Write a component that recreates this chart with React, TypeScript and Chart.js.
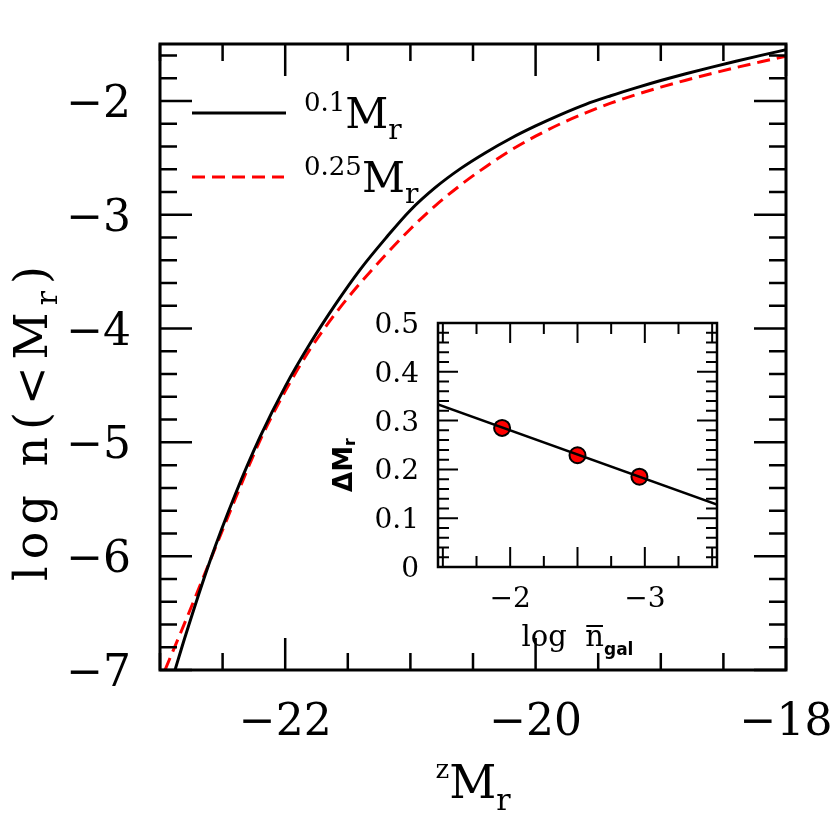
import React, { useEffect, useRef } from "react";
import { Chart, registerables } from "chart.js";
Chart.register(...registerables);

// ---- main panel data: cumulative luminosity function, log n(<M_r) ----
const mag01X = [-22.88, -22.8, -22.6, -22.4, -22.2, -22.0, -21.8, -21.6, -21.4, -21.2, -21.0, -20.8, -20.6, -20.4, -20.2, -20.0, -19.8, -19.6, -19.4, -19.2, -19.0, -18.8, -18.6, -18.4, -18.2, -18.0];
const mag01Y = [-7.0, -6.71, -6.04, -5.46, -4.95, -4.51, -4.13, -3.79, -3.48, -3.21, -2.96, -2.76, -2.595, -2.455, -2.33, -2.22, -2.12, -2.03, -1.955, -1.886, -1.821, -1.761, -1.705, -1.651, -1.6, -1.55];
const mag025X = [-22.96, -22.8, -22.6, -22.4, -22.2, -22.0, -21.8, -21.6, -21.4, -21.2, -21.0, -20.8, -20.6, -20.4, -20.2, -20.0, -19.8, -19.6, -19.4, -19.2, -19.0, -18.8, -18.6, -18.4, -18.2, -18.0];
const mag025Y = [-7.0, -6.58, -6.04, -5.5, -4.98, -4.55, -4.18, -3.87, -3.6, -3.355, -3.125, -2.92, -2.74, -2.58, -2.435, -2.31, -2.2, -2.105, -2.02, -1.946, -1.879, -1.818, -1.761, -1.707, -1.656, -1.607];
const mainXTicks = [-22, -20, -18];
const mainYTicks = [-2, -3, -4, -5, -6, -7];
const legendSup = ["0.1", "0.25"];

// ---- inset data: Delta M_r vs log n_gal ----
const insetFitX = [-1.464, -3.536];
const insetFitY = [0.333, 0.128];
const insetPtX = [-1.94, -2.5, -2.96];
const insetPtY = [0.285, 0.229, 0.185];
const insetXTicks = [-2, -3];
const insetYTicks = [0, 0.1, 0.2, 0.3, 0.4, 0.5];

const SERIF = '"DejaVu Serif", serif';
const SANS = '"DejaVu Sans", sans-serif';

const fmt = (v: number) => (v < 0 ? "\u2212" + String(Math.abs(v)) : String(v));

type Part = { t: string; size: number; dy?: number; family?: string; weight?: string };

function fontOf(p: Part) {
  return `${p.weight || "normal"} ${p.size}px ${p.family || SERIF}`;
}

function drawParts(ctx: CanvasRenderingContext2D, parts: Part[], x: number, y: number, align: "left" | "center") {
  const widths = parts.map((p) => {
    ctx.font = fontOf(p);
    return ctx.measureText(p.t).width;
  });
  const total = widths.reduce((a, b) => a + b, 0);
  let cx = align === "center" ? x - total / 2 : x;
  ctx.textAlign = "left";
  ctx.textBaseline = "alphabetic";
  const starts: number[] = [];
  parts.forEach((p, i) => {
    ctx.font = fontOf(p);
    starts.push(cx);
    ctx.fillText(p.t, cx, y + (p.dy || 0));
    cx += widths[i];
  });
  return { starts, widths };
}

type TickOpts = {
  xMinor: number; xMajor: number; yMinor: number; yMajor: number;
  majLen: number; minLen: number; tickWidth: number; frameWidth: number;
};

function drawFrameTicks(chart: any, o: TickOpts) {
  const { ctx, chartArea: a, scales } = chart;
  const xs = scales.x, ys = scales.y;
  const each = (min: number, max: number, step: number, major: number, fn: (v: number, m: boolean) => void) => {
    const i0 = Math.ceil(min / step - 1e-6), i1 = Math.floor(max / step + 1e-6);
    for (let i = i0; i <= i1; i++) {
      const v = i * step;
      const r = v / major;
      fn(v, Math.abs(r - Math.round(r)) < 1e-6);
    }
  };
  ctx.save();
  ctx.strokeStyle = "#000";
  ctx.lineWidth = o.tickWidth;
  ctx.setLineDash([]);
  ctx.beginPath();
  each(xs.min, xs.max, o.xMinor, o.xMajor, (v, m) => {
    const px = xs.getPixelForValue(v);
    const L = m ? o.majLen : o.minLen;
    ctx.moveTo(px, a.bottom); ctx.lineTo(px, a.bottom - L);
    ctx.moveTo(px, a.top); ctx.lineTo(px, a.top + L);
  });
  each(ys.min, ys.max, o.yMinor, o.yMajor, (v, m) => {
    const py = ys.getPixelForValue(v);
    const L = m ? o.majLen : o.minLen;
    ctx.moveTo(a.left, py); ctx.lineTo(a.left + L, py);
    ctx.moveTo(a.right, py); ctx.lineTo(a.right - L, py);
  });
  ctx.stroke();
  ctx.lineWidth = o.frameWidth;
  ctx.strokeRect(a.left, a.top, a.right - a.left, a.bottom - a.top);
  ctx.restore();
}

const mainDecor = {
  id: "mainDecor",
  afterDatasetsDraw(chart: any) {
    const { ctx, chartArea: a, scales } = chart;
    drawFrameTicks(chart, { xMinor: 0.5, xMajor: 2, yMinor: 0.2, yMajor: 1, majLen: 32, minLen: 17, tickWidth: 2.5, frameWidth: 3 });
    ctx.save();
    ctx.fillStyle = "#000";
    ctx.font = `44px ${SERIF}`;
    ctx.textAlign = "center";
    ctx.textBaseline = "alphabetic";
    mainXTicks.forEach((v) => ctx.fillText(fmt(v), scales.x.getPixelForValue(v), 735));
    ctx.textAlign = "right";
    mainYTicks.forEach((v) => ctx.fillText(fmt(v), a.left - 29, scales.y.getPixelForValue(v) + 16));

    // x title
    drawParts(ctx, [
      { t: "z", size: 26, dy: -20 },
      { t: "M", size: 46 },
      { t: "r", size: 30, dy: 12 },
    ], (a.left + a.right) / 2, 798, "center");

    // y title (rotated)
    ctx.save();
    ctx.translate(47, 420);
    ctx.rotate(-Math.PI / 2);
    (ctx as any).letterSpacing = "7px";
    drawParts(ctx, [
      { t: "log n(<", size: 46 },
      { t: "M", size: 46 },
      { t: "r", size: 30, dy: 10 },
      { t: ")", size: 46 },
    ], 0, 0, "center");
    (ctx as any).letterSpacing = "0px";
    ctx.restore();

    // legend
    ctx.lineWidth = 3;
    ctx.strokeStyle = "#000";
    ctx.setLineDash([]);
    ctx.beginPath(); ctx.moveTo(192, 113); ctx.lineTo(286, 113); ctx.stroke();
    ctx.strokeStyle = "#ff0000";
    ctx.setLineDash([13, 7]);
    ctx.beginPath(); ctx.moveTo(192, 177); ctx.lineTo(284, 177); ctx.stroke();
    ctx.setLineDash([]);
    const rows = [128, 192];
    legendSup.forEach((s, i) => {
      drawParts(ctx, [
        { t: s, size: 26, dy: -17 },
        { t: "M", size: 42 },
        { t: "r", size: 28, dy: 11 },
      ], 304, rows[i], "left");
    });
    ctx.restore();
  },
};

const insetDecor = {
  id: "insetDecor",
  afterDatasetsDraw(chart: any) {
    const { ctx, chartArea: a, scales } = chart;
    drawFrameTicks(chart, { xMinor: 0.25, xMajor: 0.5, yMinor: 0.02, yMajor: 0.1, majLen: 20, minLen: 11, tickWidth: 2, frameWidth: 2.5 });
    ctx.save();
    ctx.fillStyle = "#000";
    ctx.font = `28px ${SERIF}`;
    ctx.textAlign = "center";
    ctx.textBaseline = "alphabetic";
    insetXTicks.forEach((v) => ctx.fillText(fmt(v), scales.x.getPixelForValue(v), a.bottom + 40));
    ctx.textAlign = "right";
    insetYTicks.forEach((v) => ctx.fillText(fmt(v), a.left - 19, scales.y.getPixelForValue(v) + 10));

    // x title: log n̄_gal
    const base = a.bottom + 79;
    const r = drawParts(ctx, [
      { t: "log  ", size: 29 },
      { t: "n", size: 29 },
      { t: "gal", size: 17, dy: 9, family: SANS, weight: "bold" },
    ], (a.left + a.right) / 2, base, "center");
    ctx.strokeStyle = "#000";
    ctx.lineWidth = 2;
    ctx.beginPath();
    ctx.moveTo(r.starts[1] + 1, base - 20);
    ctx.lineTo(r.starts[1] + r.widths[1] - 1, base - 20);
    ctx.stroke();

    // y title: ΔM_r rotated
    ctx.save();
    ctx.translate(a.left - 86, (a.top + a.bottom) / 2 + 20);
    ctx.rotate(-Math.PI / 2);
    drawParts(ctx, [
      { t: "\u0394M", size: 26, family: SANS, weight: "bold" },
      { t: "r", size: 16, dy: 3, family: SANS, weight: "bold" },
    ], 0, 0, "center");
    ctx.restore();
    ctx.restore();
  },
};

export default function App() {
  const mainRef = useRef<HTMLCanvasElement | null>(null);
  const insetRef = useRef<HTMLCanvasElement | null>(null);

  useEffect(() => {
    const prevMargin = document.body.style.margin;
    document.body.style.margin = "0";
    const mainChart = new Chart(mainRef.current as HTMLCanvasElement, {
      type: "scatter",
      data: {
        datasets: [
          {
            label: "0.1Mr",
            data: mag01X.map((x, i) => ({ x, y: mag01Y[i] })),
            showLine: true,
            borderColor: "#000000",
            borderWidth: 3,
            pointRadius: 0,
            cubicInterpolationMode: "monotone",
          },
          {
            label: "0.25Mr",
            data: mag025X.map((x, i) => ({ x, y: mag025Y[i] })),
            showLine: true,
            borderColor: "#ff0000",
            borderWidth: 3,
            borderDash: [13, 7],
            pointRadius: 0,
            cubicInterpolationMode: "monotone",
          },
        ],
      } as any,
      options: {
        responsive: false,
        animation: false,
        layout: { padding: { left: 160, top: 44, right: 44, bottom: 160 } },
        scales: {
          x: { type: "linear", min: -23, max: -18, display: false },
          y: { type: "linear", min: -7, max: -1.5, display: false },
        },
        plugins: { legend: { display: false }, tooltip: { enabled: false } },
      } as any,
      plugins: [mainDecor],
    });

    const insetChart = new Chart(insetRef.current as HTMLCanvasElement, {
      type: "scatter",
      data: {
        datasets: [
          {
            label: "fit",
            data: insetFitX.map((x, i) => ({ x, y: insetFitY[i] })),
            showLine: true,
            borderColor: "#000000",
            borderWidth: 2.5,
            pointRadius: 0,
          },
          {
            label: "points",
            data: insetPtX.map((x, i) => ({ x, y: insetPtY[i] })),
            showLine: false,
            pointRadius: 8,
            pointBackgroundColor: "#ff0000",
            pointBorderColor: "#000000",
            pointBorderWidth: 2,
          },
        ],
      } as any,
      options: {
        responsive: false,
        animation: false,
        layout: { padding: { left: 108, top: 23, right: 13, bottom: 113 } },
        scales: {
          x: { type: "linear", min: -3.536, max: -1.464, reverse: true, display: false },
          y: { type: "linear", min: 0, max: 0.5, display: false },
        },
        plugins: { legend: { display: false }, tooltip: { enabled: false } },
      } as any,
      plugins: [insetDecor],
    });

    return () => {
      mainChart.destroy();
      insetChart.destroy();
      document.body.style.margin = prevMargin;
    };
  }, []);

  return (
    <div style={{ position: "fixed", left: 0, top: 0, width: 830, height: 830, background: "#fff" }}>
      <canvas ref={mainRef} width={830} height={830} style={{ position: "absolute", left: 0, top: 0 }} />
      <canvas ref={insetRef} width={400} height={380} style={{ position: "absolute", left: 330, top: 300 }} />
    </div>
  );
}
